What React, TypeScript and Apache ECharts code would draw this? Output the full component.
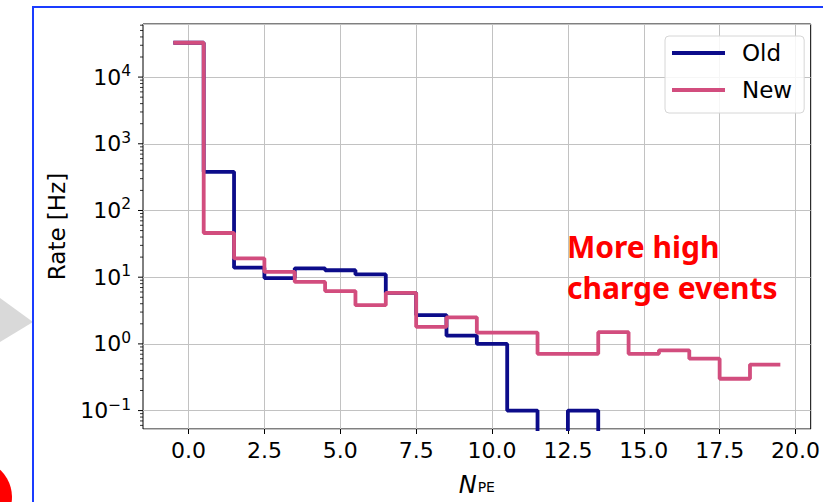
import React, { useEffect, useRef } from "react";
import * as echarts from "echarts";

// Histogram bins: centers 0..19, width 1
const binCenters = [0, 1, 2, 3, 4, 5, 6, 7, 8, 9, 10, 11, 12, 13, 14, 15, 16, 17, 18, 19];
const oldRates = [32700, 380, 13.9, 9.7, 13.6, 12.7, 11.0, 5.8, 2.7, 1.33, 1.0, 0.1, 0, 0.1, 0, 0, 0, 0, 0, 0];
const newRates = [32700, 46, 19.1, 12.0, 8.5, 6.2, 3.8, 5.8, 1.8, 2.5, 1.48, 1.48, 0.71, 0.71, 1.5, 0.71, 0.8, 0.6, 0.3, 0.49];
const seriesNames = ["Old", "New"];
const xTickValues = [0, 2.5, 5, 7.5, 10, 12.5, 15, 17.5, 20];
const yMajorTicks = [0.1, 1, 10, 100, 1000, 10000];
const annotation = "More high\ncharge events";

const FONT = "DejaVu Sans";
const NAVY = "#0c0c8a";
const PINK = "#d24d7e";

const X_MIN = -1.5;
const X_MAX = 20.5;
const Y_MIN = Math.pow(10, -1.276);
const Y_MAX = Math.pow(10, 4.796);
const FLOOR = 1e-4; // zero-count bins drop below the axis

function stepPoints(values: number[]) {
  const pts: number[][] = [];
  values.forEach((v, i) => {
    const y = v > 0 ? v : FLOOR;
    pts.push([binCenters[i] - 0.5, y]);
    pts.push([binCenters[i] + 0.5, y]);
  });
  return pts;
}

function minorTicks() {
  const out: number[] = [];
  for (let k = -2; k <= 4; k++) {
    for (let m = 2; m <= 9; m++) {
      const v = m * Math.pow(10, k);
      if (v > Y_MIN && v < Y_MAX) out.push(v);
    }
  }
  return out;
}

export default function App() {
  const ref = useRef<HTMLDivElement>(null);
  useEffect(() => {
    if (!ref.current) return;
    const chart = echarts.init(ref.current, null, { renderer: "svg" });
    const tickData = [
      ...yMajorTicks.map((v) => [v, 1]),
      ...minorTicks().map((v) => [v, 0]),
    ];
    chart.setOption({
      animation: false,
      backgroundColor: "#ffffff",
      textStyle: { fontFamily: FONT },
      grid: {
        left: 143,
        top: 24,
        right: 7,
        bottom: 70,
        show: true,
        borderColor: "#000",
        borderWidth: 1,
        backgroundColor: "transparent",
      },
      legend: {
        data: seriesNames,
        orient: "vertical",
        left: 665,
        top: 36,
        icon: "rect",
        itemWidth: 53,
        itemHeight: 4,
        itemGap: 11,
        padding: [4, 12, 10, 7],
        backgroundColor: "rgba(255,255,255,0.85)",
        borderColor: "#d6d6d6",
        borderWidth: 1,
        borderRadius: 4,
        textStyle: {
          fontFamily: FONT,
          fontSize: 23,
          color: "#000",
          lineHeight: 26,
          padding: [0, 0, 0, 12],
        },
      },
      xAxis: {
        type: "value",
        min: X_MIN,
        max: X_MAX,
        axisLine: { show: false },
        axisTick: {
          show: true,
          customValues: xTickValues,
          length: 5,
          lineStyle: { color: "#000", width: 1 },
        },
        axisLabel: {
          customValues: xTickValues,
          formatter: (v: number) => v.toFixed(1),
          fontFamily: FONT,
          fontSize: 22,
          color: "#000",
          margin: 10,
        },
        splitLine: { show: true, lineStyle: { color: "#c2c2c2", width: 1 } },
        name: "{n|N}{s|PE}",
        nameLocation: "middle",
        nameGap: 44,
        nameTextStyle: {
          rich: {
            n: { fontFamily: FONT, fontStyle: "italic", fontSize: 24, color: "#000" },
            s: { fontFamily: FONT, fontSize: 14, color: "#000", padding: [4, 0, 0, 1] },
          },
        },
      },
      yAxis: {
        type: "log",
        logBase: 10,
        min: Y_MIN,
        max: Y_MAX,
        axisLine: { show: false },
        axisTick: { show: false },
        minorTick: { show: false },
        axisLabel: {
          fontFamily: FONT,
          fontSize: 22,
          color: "#000",
          margin: 12,
          formatter: (v: number) => {
            const l = Math.log10(v);
            const r = Math.round(l);
            if (Math.abs(l - r) > 1e-6) return "";
            const e = r < 0 ? "\u2212" + -r : String(r);
            return "{b|10}{s|" + e + "}";
          },
          rich: {
            b: { fontFamily: FONT, fontSize: 22, color: "#000" },
            s: { fontFamily: FONT, fontSize: 15.5, color: "#000", padding: [0, 0, 12, 0] },
          },
        },
        splitLine: {
          show: true,
          lineStyle: { color: "#c2c2c2", width: 1 },
        },
        name: "Rate [Hz]",
        nameLocation: "middle",
        nameGap: 75,
        nameTextStyle: { fontFamily: FONT, fontSize: 23, color: "#000" },
      },
      graphic: [
        {
          type: "polygon",
          shape: { points: [[0, 298], [33, 322], [0, 342]] },
          style: { fill: "#d9d9d9" },
          z: 0,
        },
        {
          type: "circle",
          shape: { cx: -25, cy: 497, r: 37 },
          style: { fill: "#ff0000" },
          z: 0,
        },
        {
          type: "rect",
          shape: { x: 32, y: 6, width: 2, height: 496 },
          style: { fill: "#1a3cff" },
          z: 1,
        },
        {
          type: "rect",
          shape: { x: 32, y: 6, width: 791, height: 2 },
          style: { fill: "#1a3cff" },
          z: 1,
        },
        {
          type: "text",
          x: 567,
          y: 226,
          z: 100,
          style: {
            text: annotation,
            fontFamily: "Noto Sans",
            fontWeight: "bold",
            fontSize: 30,
            lineHeight: 41,
            fill: "#ff0000",
            verticalAlign: "top",
          },
        },
      ],
      series: [
        {
          name: seriesNames[0],
          type: "line",
          data: stepPoints(oldRates),
          symbol: "none",
          lineStyle: { color: NAVY, width: 3.8 },
          itemStyle: { color: NAVY },
          clip: true,
          z: 3,
        },
        {
          name: seriesNames[1],
          type: "line",
          data: stepPoints(newRates),
          symbol: "none",
          lineStyle: { color: PINK, width: 3.8 },
          itemStyle: { color: PINK },
          clip: true,
          z: 4,
        },
        {
          type: "custom",
          name: "yticks",
          data: tickData,
          clip: false,
          silent: true,
          z: 5,
          renderItem: (params: any, api: any) => {
            const v = api.value(0);
            const major = api.value(1) === 1;
            const p = api.coord([X_MIN, v]);
            const len = major ? 5 : 3;
            return {
              type: "line",
              shape: { x1: p[0] - len, y1: p[1], x2: p[0], y2: p[1] },
              style: { stroke: "#000", lineWidth: major ? 1 : 0.8 },
            };
          },
          encode: { x: -1, y: 0 },
        },
      ],
    });
    return () => chart.dispose();
  }, []);
  return (
    <div
      ref={ref}
      style={{ position: "absolute", left: 0, top: 0, width: 823, height: 502 }}
    />
  );
}
